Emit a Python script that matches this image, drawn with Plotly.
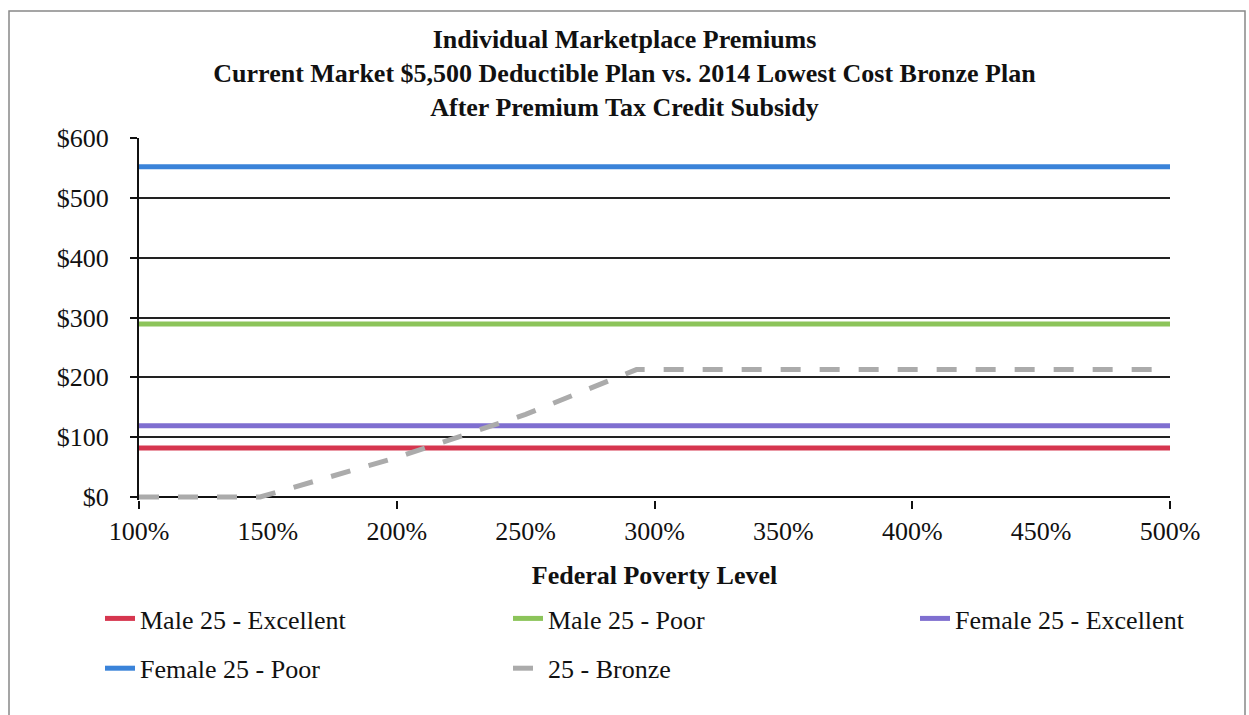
import plotly.graph_objects as go

# ---- data ----
fpl = [100, 150, 200, 250, 300, 350, 400, 450, 500]
male_excellent = [82] * 9
male_poor = [289] * 9
female_excellent = [119] * 9
female_poor = [552] * 9
bronze_fpl = [100, 147, 200, 250, 293, 350, 400, 450, 500]
bronze = [0, 0, 66, 138, 213, 213, 213, 213, 213]

x_ticks = [100, 150, 200, 250, 300, 350, 400, 450, 500]
x_labels = ["100%", "150%", "200%", "250%", "300%", "350%", "400%", "450%", "500%"]
y_ticks = [0, 100, 200, 300, 400, 500, 600]
y_labels = ["$0", "$100", "$200", "$300", "$400", "$500", "$600"]

FONT = "Liberation Serif"

fig = go.Figure()

series = [
    ("Male 25 - Excellent", fpl, male_excellent, "#d6364f", "solid", "legend", "g1"),
    ("Male 25 - Poor", fpl, male_poor, "#8cc45a", "solid", "legend2", "g3"),
    ("Female 25 - Excellent", fpl, female_excellent, "#7f6fd0", "solid", "legend3", "g5"),
    ("Female 25 - Poor", fpl, female_poor, "#3a83d9", "solid", "legend", "g2"),
    ("25 - Bronze", bronze_fpl, bronze, "#ababab", "20px,19px", "legend2", "g4"),
]
for name, xs, ys, col, dash, lg, grp in series:
    fig.add_trace(go.Scatter(
        x=xs, y=ys, name=name, mode="lines",
        line=dict(color=col, width=5, dash=dash),
        legend=lg, legendgroup=grp,
    ))

# invisible trace for secondary tick axis
fig.add_trace(go.Scatter(x=[100, 500], y=[None, None], xaxis="x2", showlegend=False,
                         hoverinfo="skip", mode="lines"))

legend_common = dict(
    orientation="v", xanchor="left", yanchor="top",
    font=dict(family=FONT, size=26, color="#111"),
    bgcolor="rgba(0,0,0,0)", tracegroupgap=13, traceorder="grouped",
)
leg_y = (497 - 592) / 362

fig.update_layout(
    width=1249, height=715,
    margin=dict(l=139, r=79, t=138, b=215),
    paper_bgcolor="white", plot_bgcolor="white",
    title=dict(
        text="Individual Marketplace Premiums<br>Current Market $5,500 Deductible Plan vs. 2014 Lowest Cost Bronze Plan<br>After Premium Tax Credit Subsidy",
        x=0.5, xanchor="center", y=1 - 48 / 715, yanchor="middle", yref="container",
        font=dict(family=FONT, size=26, color="#111", weight="bold"),
    ),
    xaxis=dict(
        range=[100, 500], tickvals=x_ticks, ticktext=x_labels, ticks="",
        showgrid=False, zeroline=False, showline=False,
        tickfont=dict(family=FONT, size=26, color="#111"),
        ticklabelstandoff=13,
        title=dict(text="<b>Federal Poverty Level</b>", font=dict(family=FONT, size=26, color="#111"), standoff=20),
    ),
    xaxis2=dict(
        range=[100, 500], overlaying="x", anchor="y", side="bottom",
        tickvals=[100, 200, 300, 400, 500], ticks="outside", ticklen=8, tickwidth=2,
        tickcolor="#111", showticklabels=False, showgrid=False, zeroline=False, showline=False,
    ),
    yaxis=dict(
        range=[-5, 600], tickvals=y_ticks, ticktext=y_labels,
        showgrid=True, gridcolor="#222", gridwidth=1.5,
        zeroline=True, zerolinecolor="#111", zerolinewidth=2,
        showline=True, linecolor="#111", linewidth=2,
        ticks="outside", ticklen=7, tickwidth=1.5, tickcolor="#111",
        tickfont=dict(family=FONT, size=26, color="#111"),
        ticklabelstandoff=16,
    ),
    legend=dict(x=(100 - 139) / 1031, y=leg_y, **legend_common),
    legend2=dict(x=(508 - 139) / 1031, y=leg_y, **legend_common),
    legend3=dict(x=(915 - 139) / 1031, y=leg_y, **legend_common),
    shapes=[dict(type="rect", xref="paper", yref="paper",
                 x0=(9 - 139) / 1031, x1=(1245 - 139) / 1031,
                 y0=(497 - 730) / 362, y1=(497 - 8) / 362,
                 line=dict(color="#888", width=1.5), fillcolor="rgba(0,0,0,0)", layer="below")],
    showlegend=True,
)

fig.write_html("out.html")
